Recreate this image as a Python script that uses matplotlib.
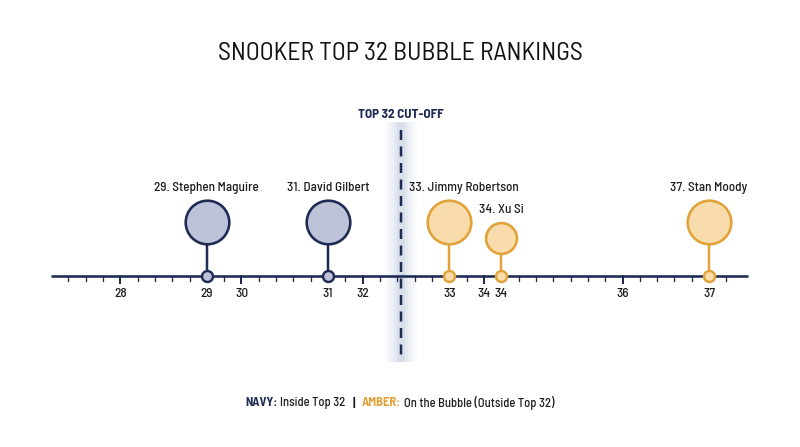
import matplotlib
matplotlib.use("Agg")
import matplotlib.pyplot as plt
import numpy as np

# ---------------- data ----------------
players = ["Stephen Maguire", "David Gilbert", "Jimmy Robertson", "Xu Si", "Stan Moody"]
ranks = [29, 31, 33, 34, 37]
axis_pos = [8, 15, 22, 25, 37]          # position along the timeline (tick units)
bubble_weight = [2, 2, 2, 1, 2]          # bubble area weight
inside_top32 = [True, True, False, False, False]
major_tick_pos = [3, 10, 17, 24, 32]
major_tick_labels = ["28", "30", "32", "34", "36"]
minor_ticks = list(range(0, 39))
cutoff_pos = 19.2
cutoff_label = "TOP 32 CUT-OFF"
title = "SNOOKER TOP 32 BUBBLE RANKINGS"

# ---------------- style ----------------
NAVY = "#1f2b55"
NAVY_FILL = "#bcc2d8"
AMBER = "#e2a23a"
AMBER_FILL = "#f8dcab"
TEXT = "#1e1e1e"
FONT = ["Barlow Semi Condensed", "Roboto", "DejaVu Sans"]
plt.rcParams["font.family"] = FONT

W, H = 800, 447
fig = plt.figure(figsize=(W / 100, H / 100), dpi=100)
ax = fig.add_axes([0, 0, 1, 1])
px0, step = 68.3, 17.32           # pixel of tick 0, pixels per tick unit
ax.set_xlim((0 - px0) / step, (W - px0) / step)
ax.set_ylim(H, 0)
ax.axis("off")
fig.canvas.draw()
renderer = fig.canvas.get_renderer()

PT = 0.72  # points per pixel
axis_y = 275.5

# cut-off band (soft blur) + dashed line
for w, a in [(32, 0.035), (26, 0.045), (20, 0.06), (14, 0.08), (8, 0.10)]:
    ax.fill_between([cutoff_pos - w / 2 / step, cutoff_pos + w / 2 / step], 122, 362,
                    color="#7f90b8", alpha=a, lw=0, zorder=1)
ax.plot([cutoff_pos, cutoff_pos], [130, 357], color=NAVY, lw=2.5 * PT,
        dashes=(4, 2.6), zorder=2)
ax.text(cutoff_pos, 115, cutoff_label, ha="center", va="center", fontsize=9.5,
        fontweight="bold", color=NAVY)

# axis line and ticks
ax.plot([(51 - px0) / step, (748 - px0) / step], [axis_y, axis_y], color=NAVY,
        lw=2.6 * PT, solid_capstyle="butt", zorder=3)
for t in minor_ticks:
    if t in major_tick_pos:
        continue
    ax.plot([t, t], [axis_y, axis_y + 5], color=NAVY, lw=1.3 * PT, zorder=3)
for t, lab in zip(major_tick_pos, major_tick_labels):
    ax.plot([t, t], [axis_y, axis_y + 7.5], color=NAVY, lw=2.0 * PT, zorder=3)
    ax.text(t, 294, lab, ha="center", va="center", fontsize=9.5, color=TEXT,
            fontweight="medium")

# bubbles
r_max = 21.8  # px (path radius)
wmax = max(bubble_weight)
for name, rk, x, w, ins in zip(players, ranks, axis_pos, bubble_weight, inside_top32):
    edge = NAVY if ins else AMBER
    fill = NAVY_FILL if ins else AMBER_FILL
    r = r_max * np.sqrt(w / wmax)
    cy = axis_y - 2.42 * r - 0.5
    ax.plot([x, x], [axis_y, cy + r], color=edge, lw=2.5 * PT, zorder=4)
    ax.scatter([x], [cy], s=(2 * r * PT) ** 2, facecolor=fill, edgecolor=edge,
               linewidth=2.6 * PT, zorder=5)
    ax.scatter([x], [axis_y], s=(11 * PT) ** 2, facecolor=fill, edgecolor=edge,
               linewidth=2.4 * PT, zorder=6)
    lab = ax.text(x, cy - r - 12.5, f"{rk}. {name}", ha="center", va="center",
                  fontsize=9.5, color=TEXT, zorder=7, fontweight="medium")
    # keep labels clear of the cut-off line
    half_w = lab.get_window_extent(renderer).width / 2 / step
    gap = 8 / step
    if x > cutoff_pos and x - half_w < cutoff_pos + gap:
        lab.set_x(cutoff_pos + gap + half_w)
    elif x < cutoff_pos and x + half_w > cutoff_pos - gap:
        lab.set_x(cutoff_pos - gap - half_w)
    ax.text(x, 294, str(rk), ha="center", va="center", fontsize=9.5, color=TEXT,
            fontweight="medium")

# title
fig.text(0.5, 1 - 54 / H, title, ha="center", va="center", fontsize=18.5,
         color="#111111", family=["Barlow Semi Condensed", "DejaVu Sans"])

# legend line
parts = [("NAVY:", NAVY, "bold", 3), ("Inside Top 32", TEXT, "medium", 7),
         ("|", TEXT, "bold", 7), ("AMBER:", AMBER, "bold", 3),
         ("On the Bubble (Outside Top 32)", TEXT, "medium", 0)]
texts = []
for s, c, wgt, g in parts:
    t = fig.text(0, 0, s, fontsize=9, color=c, fontweight=wgt, ha="left",
                 va="center")
    texts.append(t)
widths = [t.get_window_extent(renderer).width for t in texts]
gaps = [p[3] for p in parts]
total = sum(widths) + sum(gaps)
xx = (W - total) / 2
for t, wd, g in zip(texts, widths, gaps):
    t.set_position((xx / W, 1 - 403 / H))
    xx += wd + g

fig.savefig("out.png", dpi=100, facecolor="white")
